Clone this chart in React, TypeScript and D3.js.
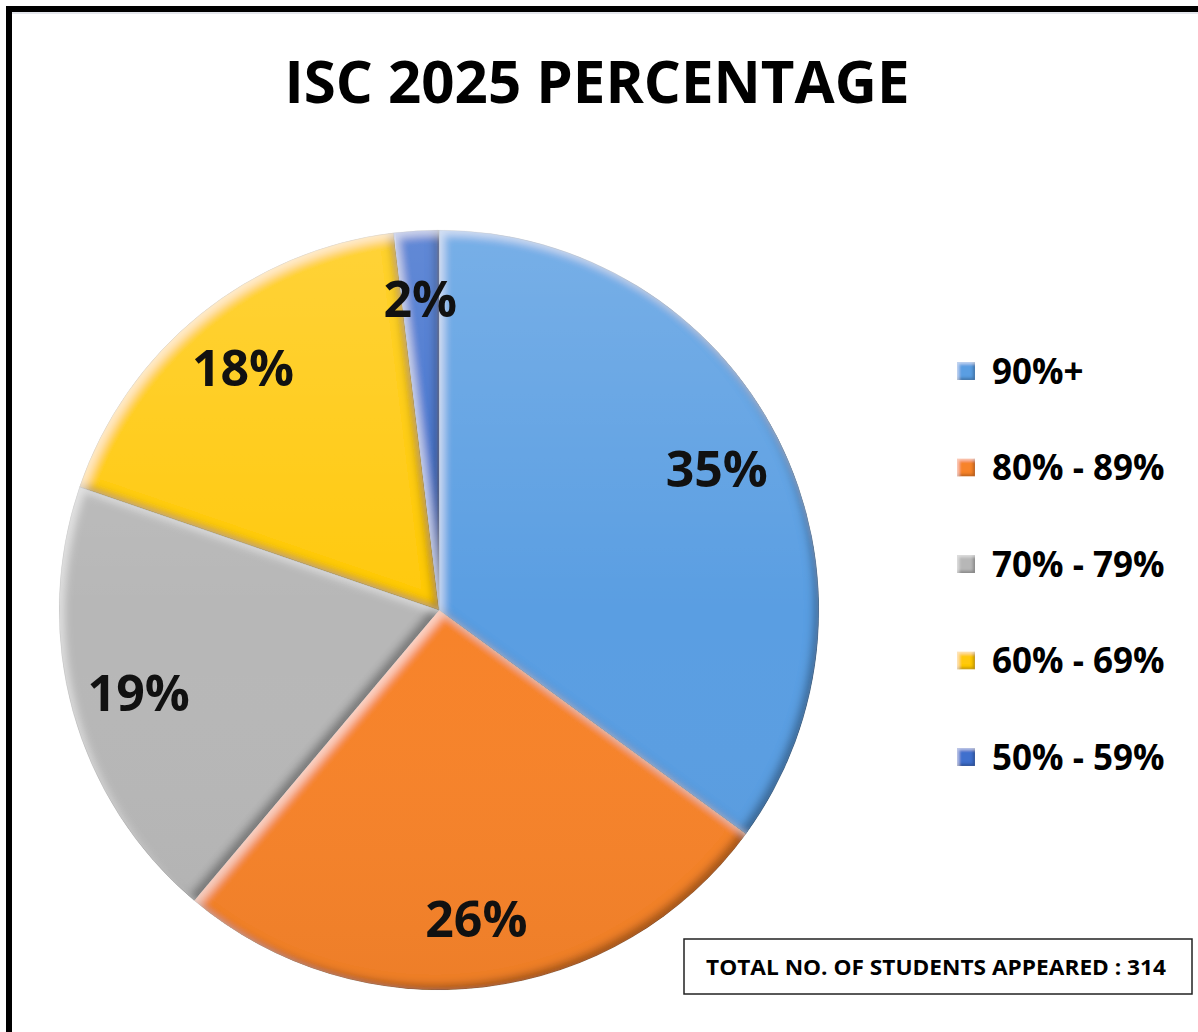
import * as d3 from "d3";

const categories = ["90%+", "80% - 89%", "70% - 79%", "60% - 69%", "50% - 59%"];
const students = [110, 82, 60, 56, 6];
const colors = ["#5A9EE2", "#F7832C", "#B7B7B7", "#FFC90A", "#4170CD"];
const title = "ISC 2025 PERCENTAGE";
const totalLabel = "TOTAL NO. OF STUDENTS APPEARED : 314";

const W = 1198;
const H = 1032;
const cx = 439;
const cy = 610;
const R = 380;

const FONT = "'Open Sans', 'Noto Sans', sans-serif";

export default function App() {
  const total = d3.sum(students);
  const pie = d3.pie<number>().sort(null).value((d) => d);
  const arcs = pie(students);
  const arc = d3.arc<d3.PieArcDatum<number>>().innerRadius(0).outerRadius(R);
  const labelArc = d3
    .arc<d3.PieArcDatum<number>>()
    .innerRadius(R * 0.82)
    .outerRadius(R * 0.82);
  const fmt = d3.format(".0%");

  const legendY = d3
    .scalePoint<string>()
    .domain(categories)
    .range([371, 757]);

  return (
    <svg
      width={W}
      height={H}
      style={{ position: "absolute", left: 0, top: 0, background: "#fff" }}
    >
      <defs>
        <filter id="bevel" x="-5%" y="-5%" width="110%" height="110%">
          <feGaussianBlur in="SourceAlpha" stdDeviation="4" result="blur" />
          <feOffset in="blur" dx="-5" dy="-5" result="offDark" />
          <feComposite
            in="SourceAlpha"
            in2="offDark"
            operator="arithmetic"
            k2="1"
            k3="-1"
            result="darkMask"
          />
          <feFlood floodColor="#000" floodOpacity="0.6" />
          <feComposite in2="darkMask" operator="in" result="dark" />
          <feOffset in="blur" dx="5" dy="5" result="offLight" />
          <feComposite
            in="SourceAlpha"
            in2="offLight"
            operator="arithmetic"
            k2="1"
            k3="-1"
            result="lightMask"
          />
          <feFlood floodColor="#fff" floodOpacity="0.55" />
          <feComposite in2="lightMask" operator="in" result="light" />
          <feMerge result="merged">
            <feMergeNode in="SourceGraphic" />
            <feMergeNode in="dark" />
            <feMergeNode in="light" />
          </feMerge>
          <feComposite in="merged" in2="SourceAlpha" operator="in" />
        </filter>
        <filter id="bevelSmall" x="-10%" y="-10%" width="120%" height="120%">
          <feGaussianBlur in="SourceAlpha" stdDeviation="1.5" result="blur" />
          <feOffset in="blur" dx="-2" dy="-2" result="offDark" />
          <feComposite
            in="SourceAlpha"
            in2="offDark"
            operator="arithmetic"
            k2="1"
            k3="-1"
            result="darkMask"
          />
          <feFlood floodColor="#000" floodOpacity="0.5" />
          <feComposite in2="darkMask" operator="in" result="dark" />
          <feOffset in="blur" dx="2" dy="2" result="offLight" />
          <feComposite
            in="SourceAlpha"
            in2="offLight"
            operator="arithmetic"
            k2="1"
            k3="-1"
            result="lightMask"
          />
          <feFlood floodColor="#fff" floodOpacity="0.5" />
          <feComposite in2="lightMask" operator="in" result="light" />
          <feMerge result="merged">
            <feMergeNode in="SourceGraphic" />
            <feMergeNode in="dark" />
            <feMergeNode in="light" />
          </feMerge>
          <feComposite in="merged" in2="SourceAlpha" operator="in" />
        </filter>
        <linearGradient id="sheen" x1="0" y1="0" x2="0" y2="1">
          <stop offset="0" stopColor="#fff" stopOpacity="0.18" />
          <stop offset="0.5" stopColor="#fff" stopOpacity="0" />
          <stop offset="1" stopColor="#000" stopOpacity="0.04" />
        </linearGradient>
      </defs>

      {/* outer frame */}
      <rect x={9} y={9} width={W + 20} height={H + 20} fill="none" stroke="#000" strokeWidth={6} />
      <line x1={12} x2={W} y1={13} y2={13} stroke="#e4e6ec" strokeWidth={2} />

      <text
        x={597}
        y={103}
        textAnchor="middle"
        fontFamily={FONT}
        fontWeight={700}
        fontSize={59}
        textLength={625}
        lengthAdjust="spacingAndGlyphs"
        fill="#000"
      >
        {title}
      </text>

      <g transform={`translate(${cx},${cy})`}>
        {arcs.map((a, i) => (
          <path
            key={categories[i]}
            d={arc(a) || ""}
            fill={colors[i]}
            stroke="rgba(0,0,0,0.25)"
            strokeWidth={1}
            filter="url(#bevel)"
          />
        ))}
        <circle r={R} fill="url(#sheen)" pointerEvents="none" />
        {arcs.map((a, i) => {
          const [lx, ly] = labelArc.centroid(a);
          return (
            <text
              key={"l" + i}
              x={lx}
              y={ly}
              dy="0.36em"
              textAnchor="middle"
              fontFamily={FONT}
              fontWeight={700}
              fontSize={50}
              fill="#111"
            >
              {fmt(students[i] / total)}
            </text>
          );
        })}
      </g>

      {categories.map((c, i) => {
        const y = legendY(c) ?? 0;
        return (
          <g key={c} transform={`translate(957,${y})`}>
            <rect x={0} y={-9} width={18} height={18} fill={colors[i]} filter="url(#bevelSmall)" />
            <text
              x={35}
              y={0}
              dy="0.36em"
              fontFamily={FONT}
              fontWeight={700}
              fontSize={35}
              fill="#000"
            >
              {c}
            </text>
          </g>
        );
      })}

      <rect x={684} y={939} width={508} height={55} fill="#fff" stroke="#222" strokeWidth={1.5} />
      <text
        x={936}
        y={967}
        dy="0.36em"
        textAnchor="middle"
        fontFamily={FONT}
        fontWeight={700}
        fontSize={21}
        textLength={460}
        lengthAdjust="spacingAndGlyphs"
        fill="#000"
      >
        {totalLabel}
      </text>
    </svg>
  );
}
